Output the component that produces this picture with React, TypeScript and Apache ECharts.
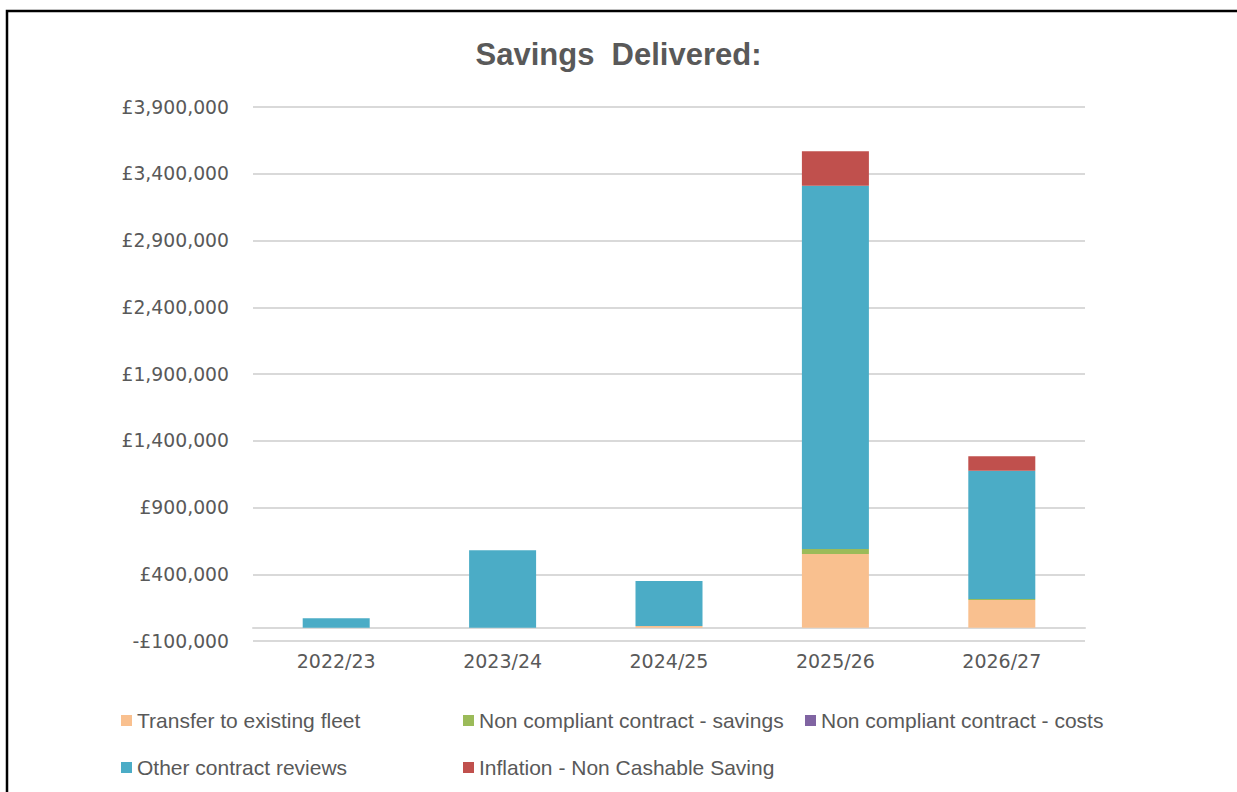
import React, { useEffect, useRef } from "react";
import * as echarts from "echarts";

const categories = ["2022/23", "2023/24", "2024/25", "2025/26", "2026/27"];
const transferToFleet = [0, 0, 12000, 552000, 207000];
const nonCompliantSavings = [0, 0, 0, 37000, 7000];
const nonCompliantCosts = [0, 0, 0, 0, 0];
const otherContractReviews = [70000, 580000, 338000, 2721000, 962000];
const inflationNonCashable = [0, 0, 0, 258000, 108000];

const seriesNames = [
  "Transfer to existing fleet",
  "Non compliant contract - savings",
  "Non compliant contract - costs",
  "Other contract reviews",
  "Inflation - Non Cashable Saving",
];
const seriesColors = ["#F9C08F", "#9BBB59", "#8064A2", "#4BACC6", "#C0504D"];
const seriesData = [
  transferToFleet,
  nonCompliantSavings,
  nonCompliantCosts,
  otherContractReviews,
  inflationNonCashable,
];

const legendPos = [
  { left: 121, top: 710 },
  { left: 463, top: 710 },
  { left: 805, top: 710 },
  { left: 121, top: 757 },
  { left: 463, top: 757 },
];

const FONT = "'Liberation Sans', Arial, sans-serif";
const WIDE = "'DejaVu Sans', sans-serif";
const TXT = "#595959";

function fmt(v: number): string {
  const s = Math.abs(v).toLocaleString("en-GB");
  return (v < 0 ? "-£" : "£") + s;
}

export default function App() {
  const ref = useRef<HTMLDivElement>(null);
  useEffect(() => {
    if (!ref.current) return;
    const chart = echarts.init(ref.current, null, { renderer: "svg" });
    chart.setOption({
      animation: false,
      backgroundColor: "#ffffff",
      title: {
        text: "Savings  Delivered:",
        left: "center",
        top: 39,
        padding: 0,
        textStyle: { fontFamily: FONT, fontSize: 31, fontWeight: "bold", color: TXT },
      },
      graphic: [
        {
          type: "rect",
          shape: { x: 7, y: 11, width: 1400, height: 1000 },
          style: { fill: "none", stroke: "#000000", lineWidth: 2.5 },
          silent: true,
        },
      ],
      legend: seriesNames.map((n, i) => ({
        data: [n],
        left: legendPos[i].left,
        top: legendPos[i].top,
        padding: 0,
        itemWidth: 11,
        itemHeight: 11,
        itemGap: 6,
        icon: "rect",
        textStyle: { fontFamily: FONT, fontSize: 21, color: TXT },
        selectedMode: false,
      })),
      grid: { left: 253, right: 152, top: 107, bottom: 151, containLabel: false },
      xAxis: {
        type: "category",
        data: categories,
        axisLine: { show: true, onZero: true, lineStyle: { color: "#D9D9D9", width: 2 } },
        axisTick: { show: false },
        axisLabel: { fontFamily: WIDE, fontSize: 19, color: TXT, margin: 10 },
      },
      yAxis: {
        type: "value",
        min: -100000,
        max: 3900000,
        interval: 500000,
        axisLine: { show: false },
        axisTick: { show: false },
        splitLine: { lineStyle: { color: "#D9D9D9", width: 2 } },
        axisLabel: {
          fontFamily: WIDE,
          fontSize: 18.8,
          color: TXT,
          margin: 24,
          formatter: (v: number) => fmt(v),
        },
      },
      series: seriesNames.map((n, i) => ({
        name: n,
        type: "bar",
        stack: "total",
        data: seriesData[i],
        barWidth: 67,
        itemStyle: { color: seriesColors[i] },
      })),
    });
    return () => chart.dispose();
  }, []);
  return (
    <div
      ref={ref}
      style={{ position: "fixed", left: 0, top: 0, width: 1237, height: 792 }}
    />
  );
}
